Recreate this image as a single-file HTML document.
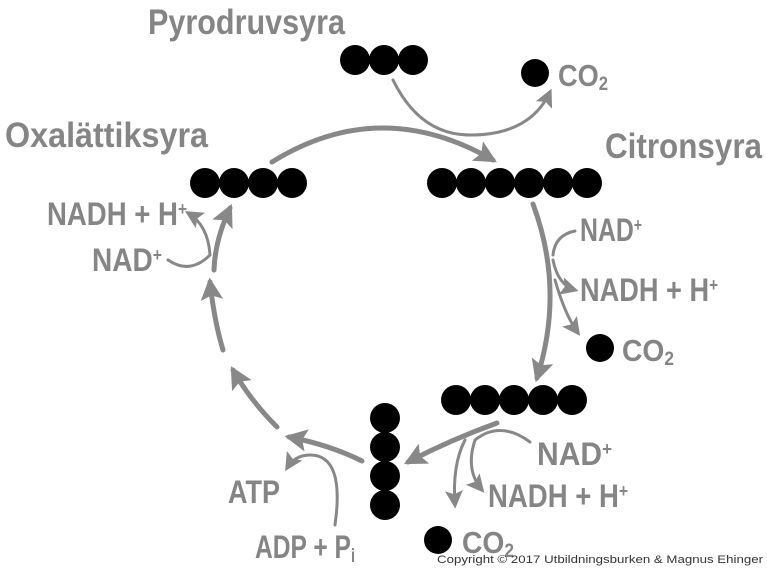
<!DOCTYPE html>
<html><head><meta charset="utf-8"><style>
html,body{margin:0;padding:0;background:#fff;}
svg{display:block;}
.t{font-family:"Liberation Sans Narrow","Liberation Sans",sans-serif;font-weight:bold;fill:#858585;}
</style></head><body>
<svg width="767" height="569" viewBox="0 0 767 569" xmlns="http://www.w3.org/2000/svg">
<defs>
<marker id="a" viewBox="0 0 10 10" refX="8" refY="5" markerWidth="4.5" markerHeight="4.5" orient="auto-start-reverse"><path d="M0,0 L10,5 L0,10 L2,5z" fill="#888"/></marker>
<marker id="s" viewBox="0 0 10 10" refX="8" refY="5" markerWidth="6" markerHeight="6" orient="auto"><path d="M0,0 L10,5 L0,10 L2,5z" fill="#888"/></marker>
</defs>
<g fill="none" stroke="#888" stroke-linecap="round">
<path d="M272,162 Q380,95 493,160" stroke-width="5" marker-end="url(#a)"/>
<path d="M393,80 Q420,135 470,135 Q530,135 550,92" stroke-width="3" marker-end="url(#s)"/>
<path d="M533,204 Q565,290 537,378" stroke-width="5" marker-end="url(#a)"/>
<path d="M575,231 Q555,235 553,255" stroke-width="3"/>
<path d="M553,260 Q558,285 575,290" stroke-width="3" marker-end="url(#s)"/>
<path d="M555,280 Q565,315 578,333" stroke-width="3" marker-end="url(#s)"/>
<path d="M497,423 Q450,440 408,462" stroke-width="5" marker-end="url(#a)"/>
<path d="M530,442 Q500,420 475,440 Q465,470 482,490" stroke-width="3" marker-end="url(#s)"/>
<path d="M465,440 Q452,465 455,505" stroke-width="3" marker-end="url(#s)"/>
<path d="M362,461 Q330,445 289,437" stroke-width="5" marker-end="url(#a)"/>
<path d="M335,525 Q345,455 310,455 Q295,455 287,468" stroke-width="3" marker-end="url(#s)"/>
<path d="M277,427 Q250,400 233,370" stroke-width="5" marker-end="url(#a)"/>
<path d="M223,350 Q214,320 210,282" stroke-width="5" marker-end="url(#a)"/>
<path d="M214,270 Q215,240 230,208" stroke-width="5" marker-end="url(#a)"/>
<path d="M168,260 Q190,275 210,255 Q208,225 188,213" stroke-width="3" marker-end="url(#s)"/>
</g>
<g fill="#000">
<circle cx="355" cy="60" r="15"/><circle cx="384" cy="60" r="15"/><circle cx="413" cy="60" r="15"/>
<circle cx="535" cy="73" r="14"/>
<circle cx="205" cy="183" r="15"/><circle cx="234" cy="183" r="15"/><circle cx="263" cy="183" r="15"/><circle cx="292" cy="183" r="15"/>
<circle cx="442" cy="183" r="15"/><circle cx="471" cy="183" r="15"/><circle cx="500" cy="183" r="15"/><circle cx="529" cy="183" r="15"/><circle cx="558" cy="183" r="15"/><circle cx="587" cy="183" r="15"/>
<circle cx="456" cy="400" r="15"/><circle cx="485" cy="400" r="15"/><circle cx="514" cy="400" r="15"/><circle cx="543" cy="400" r="15"/><circle cx="572" cy="400" r="15"/>
<circle cx="385" cy="418" r="15"/><circle cx="385" cy="447" r="15"/><circle cx="385" cy="476" r="15"/><circle cx="385" cy="505" r="15"/>
<circle cx="600" cy="348" r="14"/>
<circle cx="438" cy="540" r="14"/>
</g>
<g class="t">
<text x="148" y="34" font-size="35" textLength="197" lengthAdjust="spacingAndGlyphs">Pyrodruvsyra</text>
<text x="5" y="147" font-size="35" textLength="203" lengthAdjust="spacingAndGlyphs">Oxalättiksyra</text>
<text x="605" y="158" font-size="35" textLength="157" lengthAdjust="spacingAndGlyphs">Citronsyra</text>
<text x="558" y="86" font-size="31" textLength="50" lengthAdjust="spacingAndGlyphs">CO<tspan font-size="19" dy="4">2</tspan></text>
<text x="622" y="361" font-size="31" textLength="52" lengthAdjust="spacingAndGlyphs">CO<tspan font-size="19" dy="4">2</tspan></text>
<text x="462" y="553" font-size="31" textLength="52" lengthAdjust="spacingAndGlyphs">CO<tspan font-size="19" dy="4">2</tspan></text>
<text x="47" y="225" font-size="32" textLength="140" lengthAdjust="spacingAndGlyphs">NADH + H<tspan font-size="18" dy="-10">+</tspan></text>
<text x="92" y="271" font-size="32" textLength="70" lengthAdjust="spacingAndGlyphs">NAD<tspan font-size="18" dy="-10">+</tspan></text>
<text x="580" y="241" font-size="32" textLength="62" lengthAdjust="spacingAndGlyphs">NAD<tspan font-size="18" dy="-10">+</tspan></text>
<text x="580" y="301" font-size="32" textLength="138" lengthAdjust="spacingAndGlyphs">NADH + H<tspan font-size="18" dy="-10">+</tspan></text>
<text x="537" y="465" font-size="32" textLength="75" lengthAdjust="spacingAndGlyphs">NAD<tspan font-size="18" dy="-10">+</tspan></text>
<text x="488" y="507" font-size="32" textLength="140" lengthAdjust="spacingAndGlyphs">NADH + H<tspan font-size="18" dy="-10">+</tspan></text>
<text x="228" y="503" font-size="32" textLength="52" lengthAdjust="spacingAndGlyphs">ATP</text>
<text x="255" y="558" font-size="32" textLength="100" lengthAdjust="spacingAndGlyphs">ADP + P<tspan font-size="19" dy="4">i</tspan></text>
</g>
<text x="437" y="563" font-family="Liberation Sans,sans-serif" font-size="11" fill="#333" textLength="326" lengthAdjust="spacingAndGlyphs">Copyright © 2017 Utbildningsburken &amp; Magnus Ehinger</text>
</svg>
</body></html>
